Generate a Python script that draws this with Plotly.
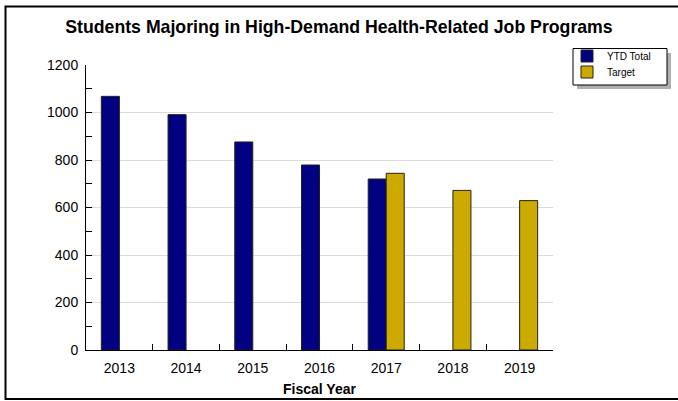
import plotly.graph_objects as go

years = ["2013", "2014", "2015", "2016", "2017", "2018", "2019"]
ytd_total = [1068, 991, 876, 779, 720, None, None]
target = [None, None, None, None, 744, 672, 629]

W, H = 678, 401
L, R, T, B = 86, 125, 65, 51
pw, ph = W - L - R, H - T - B


def px(x):
    return (x - L) / pw


def py(y):
    return (H - B - y) / ph


fig = go.Figure()
fig.add_trace(go.Bar(x=years, y=ytd_total, name="YTD Total", legend="legend",
                     marker=dict(color="#000080", line=dict(color="#222222", width=1))))
fig.add_trace(go.Bar(x=years, y=target, name="Target", legend="legend2",
                     marker=dict(color="#ccaa00", line=dict(color="#222222", width=1))))

font = "Liberation Sans, Arial, sans-serif"
leg = dict(xanchor="left", yanchor="middle", bgcolor="rgba(0,0,0,0)", borderwidth=0,
           font=dict(size=10, color="black"), itemwidth=30)

fig.update_layout(
    width=W, height=H, autosize=False,
    margin=dict(l=L, r=R, t=T, b=B, autoexpand=False),
    paper_bgcolor="white", plot_bgcolor="white",
    barmode="group", bargap=0.46, bargroupgap=0,
    font=dict(family=font, size=14, color="black"),
    title=dict(text="<b>Students Majoring in High-Demand Health-Related Job Programs</b>",
               x=0.5, xref="container", xanchor="center", y=1 - 27 / H, yanchor="middle",
               font=dict(size=17.7, color="black")),
    showlegend=True,
    legend=dict(leg, x=px(567), y=py(56)),
    legend2=dict(leg, x=px(567), y=py(72)),
    xaxis=dict(showline=True, linecolor="black", linewidth=1,
               ticks="inside", ticklen=6, tickcolor="black", tickson="boundaries",
               ticklabelstandoff=5,
               title=dict(text="<b>Fiscal Year</b>", font=dict(size=14), standoff=9)),
    yaxis=dict(range=[0, 1200], dtick=200, showline=True, linecolor="black", linewidth=1,
               ticks="inside", ticklen=6, tickcolor="black",
               showgrid=True, gridcolor="#dcdcdc", gridwidth=1, zeroline=False,
               ticklabelstandoff=4,
               minor=dict(dtick=100, ticks="inside", ticklen=6, tickcolor="black", showgrid=False)),
    shapes=[
        # legend shadow and box
        dict(type="rect", xref="paper", yref="paper",
             x0=px(577), x1=px(671), y0=py(53), y1=py(89),
             fillcolor="#b0b0b0", line=dict(width=0), layer="below"),
        dict(type="rect", xref="paper", yref="paper",
             x0=px(573), x1=px(667), y0=py(48.5), y1=py(85),
             fillcolor="white", line=dict(color="black", width=1), layer="below"),
        # outer frame
        dict(type="rect", xref="paper", yref="paper",
             x0=px(5.5), x1=px(682), y0=py(6.5), y1=py(399),
             line=dict(color="black", width=2)),
    ],
)

fig.write_html("out.html",
               config={"displayModeBar": False, "responsive": False},
               post_script="document.body.style.margin='0';")
